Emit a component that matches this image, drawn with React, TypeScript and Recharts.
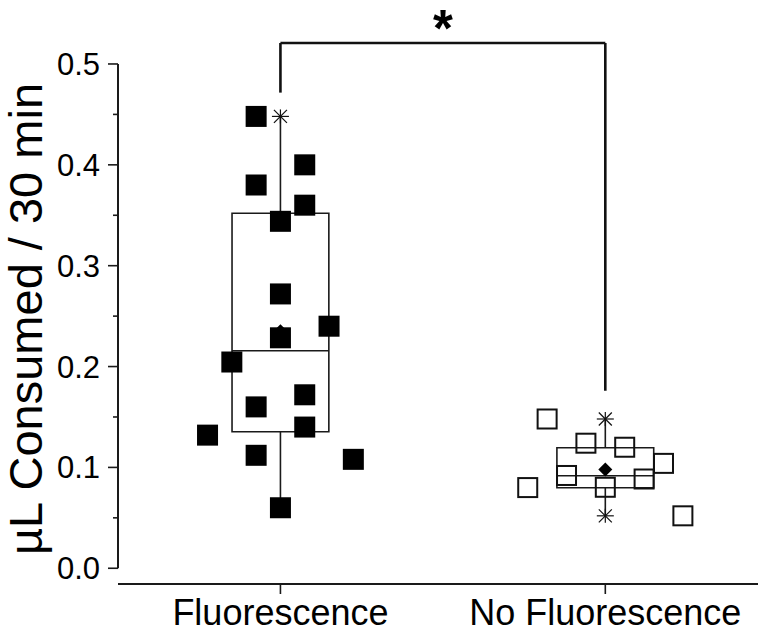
import React from 'react';
import { ScatterChart, Scatter, XAxis, YAxis, ReferenceLine, ReferenceArea } from 'recharts';

// ---- data ----
const categories = ['Fluorescence', 'No Fluorescence'];
const categoryPositions = [1, 2];

const fluorescenceValues = [0.448, 0.4, 0.38, 0.36, 0.344, 0.272, 0.24, 0.2285, 0.2045, 0.172, 0.16, 0.14, 0.132, 0.112, 0.108, 0.06];
const fluorescenceSlots = [-1, 1, -1, 1, 0, 0, 2, 0, -2, 1, -1, 1, -3, -1, 3, 0];

const noFluorescenceValues = [0.148, 0.124, 0.12, 0.104, 0.092, 0.0885, 0.08, 0.0803, 0.052];
const noFluorescenceSlots = [-3, -1, 1, 3, -2, 2, -4, 0, 4];

const boxQ1 = [0.1354, 0.0799];
const boxMedian = [0.2157, 0.0918];
const boxQ3 = [0.352, 0.1195];
const whiskerMin = [0.06, 0.052];
const whiskerMax = [0.448, 0.148];
const groupMean = [0.235, 0.098];

const yTicks = [0, 0.05, 0.1, 0.15, 0.2, 0.25, 0.3, 0.35, 0.4, 0.45, 0.5];

const bracketTop = 0.5208;
const bracketLeftEnd = 0.4716;
const bracketRightEnd = 0.176;
const significanceMark = '*';
const yTitle = 'µL Consumed / 30 min';

// ---- layout constants ----
const FONT = '"Liberation Sans", Arial, Helvetica, sans-serif';
const F_STEP = 0.0748;
const N_STEP = 0.0597;
const BOX_HALF = 0.149;
const LINE = '#1a1a1a';

const fluorescenceData = fluorescenceValues.map((y, i) => ({ x: categoryPositions[0] + fluorescenceSlots[i] * F_STEP, y }));
const noFluorescenceData = noFluorescenceValues.map((y, i) => ({ x: categoryPositions[1] + noFluorescenceSlots[i] * N_STEP, y }));
const extremeData = categoryPositions.flatMap((c, i) => [
  { x: c, y: whiskerMax[i] },
  { x: c, y: whiskerMin[i] },
]);
const meanData = groupMean.map((y, i) => ({ x: categoryPositions[i], y }));

const FilledSquare = (p: any) => (
  <rect x={p.cx - 10.5} y={p.cy - 10.5} width={21} height={21} fill="#000" />
);
const HollowSquare = (p: any) => (
  <rect x={p.cx - 9.5} y={p.cy - 9.5} width={19} height={19} fill="none" stroke="#111" strokeWidth={2} />
);
const Diamond = (p: any) => (
  <path d={`M${p.cx},${p.cy - 7} L${p.cx + 7},${p.cy} L${p.cx},${p.cy + 7} L${p.cx - 7},${p.cy} Z`} fill="#000" />
);
const Star = (p: any) => {
  const { cx, cy } = p;
  const d = 6.5;
  return (
    <g stroke="#111" strokeWidth={1.2}>
      <line x1={cx - 8.5} x2={cx + 8.5} y1={cy} y2={cy} />
      <line x1={cx - d} x2={cx + d} y1={cy - d} y2={cy + d} />
      <line x1={cx - d} x2={cx + d} y1={cy + d} y2={cy - d} />
      <line x1={cx} x2={cx} y1={cy - 7} y2={cy + 7} />
    </g>
  );
};

const YTick = (props: any) => {
  const { x, y, payload } = props;
  const v = payload.value as number;
  const major = Math.abs(v * 10 - Math.round(v * 10)) < 1e-6;
  const ax = x + 18;
  return (
    <g>
      <line x1={ax - (major ? 10 : 5)} x2={ax} y1={y} y2={y} stroke={LINE} strokeWidth={1.6} />
      {major && (
        <text x={x} y={y} dy="0.355em" textAnchor="end" fontSize={31} fill="#000" fontFamily={FONT}>
          {v.toFixed(1)}
        </text>
      )}
    </g>
  );
};

export default function App() {
  return (
    <div style={{ position: 'absolute', left: 0, top: 0, background: '#fff' }}>
      <ScatterChart width={758} height={632} margin={{ top: 8, right: 0, bottom: 0, left: 0 }}>
        <XAxis
          type="number"
          dataKey="x"
          domain={[0.5, 2.47]}
          allowDataOverflow
          ticks={categoryPositions}
          interval={0}
          tickFormatter={(v: number) => categories[Math.round(v) - 1]}
          height={48}
          tickSize={10}
          tickMargin={5}
          axisLine={{ stroke: LINE, strokeWidth: 2 }}
          tickLine={{ stroke: LINE, strokeWidth: 1.6 }}
          tick={{ fontSize: 36, fill: '#000', fontFamily: FONT }}
        />
        <YAxis
          type="number"
          dataKey="y"
          domain={[-0.0156, 0.5555]}
          allowDataOverflow
          ticks={yTicks}
          interval={0}
          width={118}
          tickSize={10}
          tickMargin={8}
          axisLine={false}
          tickLine={false}
          tick={<YTick />}
          label={() => (
            <text
              x={42}
              y={319}
              transform="rotate(-90, 42, 319)"
              textAnchor="middle"
              fontSize={47}
              fill="#000"
              fontFamily={FONT}
            >
              {yTitle}
            </text>
          )}
        />
        {/* y axis line from 0 to 0.5 */}
        <ReferenceLine segment={[{ x: 0.5, y: 0 }, { x: 0.5, y: 0.5 }]} stroke={LINE} strokeWidth={2} ifOverflow="visible" />

        {/* box plots */}
        {categoryPositions.map((c, i) => (
          <ReferenceArea
            key={`box-${i}`}
            x1={c - BOX_HALF}
            x2={c + BOX_HALF}
            y1={boxQ1[i]}
            y2={boxQ3[i]}
            fill="none"
            fillOpacity={0}
            stroke={LINE}
            strokeWidth={1.6}
            ifOverflow="visible"
          />
        ))}
        {categoryPositions.map((c, i) => (
          <ReferenceLine key={`med-${i}`} segment={[{ x: c - BOX_HALF, y: boxMedian[i] }, { x: c + BOX_HALF, y: boxMedian[i] }]} stroke={LINE} strokeWidth={1.6} ifOverflow="visible" />
        ))}
        {categoryPositions.map((c, i) => (
          <ReferenceLine key={`wu-${i}`} segment={[{ x: c, y: boxQ3[i] }, { x: c, y: whiskerMax[i] }]} stroke={LINE} strokeWidth={1.6} ifOverflow="visible" />
        ))}
        {categoryPositions.map((c, i) => (
          <ReferenceLine key={`wl-${i}`} segment={[{ x: c, y: boxQ1[i] }, { x: c, y: whiskerMin[i] }]} stroke={LINE} strokeWidth={1.6} ifOverflow="visible" />
        ))}

        {/* significance bracket */}
        <ReferenceLine segment={[{ x: categoryPositions[0], y: bracketLeftEnd }, { x: categoryPositions[0], y: bracketTop }]} stroke="#111" strokeWidth={2.6} ifOverflow="visible" />
        <ReferenceLine segment={[{ x: categoryPositions[1], y: bracketRightEnd }, { x: categoryPositions[1], y: bracketTop }]} stroke="#111" strokeWidth={2.6} ifOverflow="visible" />
        <ReferenceLine
          segment={[{ x: categoryPositions[0], y: bracketTop }, { x: categoryPositions[1], y: bracketTop }]}
          stroke="#111"
          strokeWidth={2.6}
          ifOverflow="visible"
          label={(props: any) => {
            const vb = props.viewBox || {};
            return (
              <text x={vb.x + vb.width / 2} y={vb.y + 3.5} textAnchor="middle" fontSize={51} fontWeight="bold" fill="#000" fontFamily={FONT}>
                {significanceMark}
              </text>
            );
          }}
        />

        <Scatter data={extremeData} shape={<Star />} isAnimationActive={false} />
        <Scatter data={meanData} shape={<Diamond />} isAnimationActive={false} />
        <Scatter data={fluorescenceData} shape={<FilledSquare />} isAnimationActive={false} />
        <Scatter data={noFluorescenceData} shape={<HollowSquare />} isAnimationActive={false} />
      </ScatterChart>
    </div>
  );
}
